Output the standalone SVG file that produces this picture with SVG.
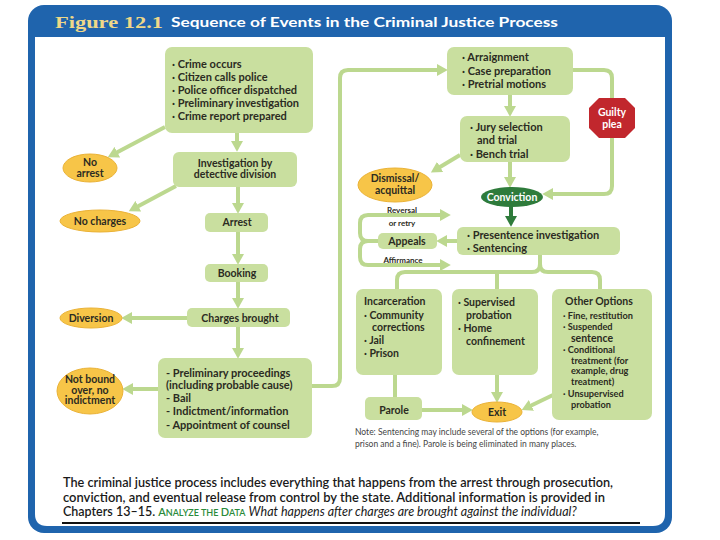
<svg xmlns="http://www.w3.org/2000/svg" width="720" height="540" viewBox="0 0 720 540">
<style>
.t{font-family:Lato,"Liberation Sans",sans-serif;font-weight:bold;font-size:10.5px;fill:#2b2b22}
.b{font-size:11px}
.c{text-anchor:middle}
.w{fill:#ffffff}
.sm{font-size:8px}
.o{font-size:9.2px}
.box{fill:#c9df9f}
.ov{fill:#f7c548;stroke:#eab236;stroke-width:1}
.ln{fill:none;stroke:#bcd88f;stroke-width:4}
.la{fill:none;stroke:#bcd88f;stroke-width:4;marker-end:url(#ah)}
.note{font-family:Lato,"Liberation Sans",sans-serif;font-size:8.5px;fill:#444}
.cap{font-family:Lato,"Liberation Sans",sans-serif;font-size:12.5px;font-weight:600;fill:#1a1a1a}
</style>
<defs>
<marker id="ah" markerUnits="userSpaceOnUse" markerWidth="12" markerHeight="12" viewBox="0 0 10 10" refX="5" refY="5" orient="auto">
<path d="M0,0 L9,5 L0,10 z" fill="#bcd88f"/>
</marker>
<marker id="ahd" markerUnits="userSpaceOnUse" markerWidth="12" markerHeight="12" viewBox="0 0 10 10" refX="5" refY="5" orient="auto">
<path d="M0,0 L9,5 L0,10 z" fill="#2e7b3b"/>
</marker>
</defs>
<rect width="720" height="540" fill="#ffffff"/>
<g id="frame">
<rect x="28" y="5" width="644" height="528" rx="16" fill="#1f64ad"/>
<path d="M35,37 H665 V514 Q665,526 653,526 H47 Q35,526 35,514 Z" fill="#ffffff"/>
<text x="55" y="28" font-family="Liberation Serif,serif" font-weight="bold" font-size="17" fill="#efd888" textLength="108" lengthAdjust="spacingAndGlyphs">Figure 12.1</text>
<text x="171" y="27" font-family="Lato,Liberation Sans,sans-serif" font-weight="bold" font-size="14" fill="#ffffff" textLength="387" lengthAdjust="spacingAndGlyphs">Sequence of Events in the Criminal Justice Process</text>
</g>
<g id="connectors">
<path class="la" d="M165,127 L112,155"/>
<path class="la" d="M237,133 V147"/>
<path class="la" d="M176,186 L133,209"/>
<path class="la" d="M238,187 V209"/>
<path class="la" d="M238,232 V260"/>
<path class="la" d="M238,282 V304"/>
<path class="la" d="M187,318 H126"/>
<path class="la" d="M238,327 V354"/>
<path class="la" d="M158,389 H127"/>
<path class="la" d="M312,386 H332 Q340,386 340,378 V78 Q340,70 348,70 H443"/>
<path class="la" d="M510,95 V112"/>
<path class="la" d="M573,70 H604 Q612,70 612,78 V186 Q612,194 604,194 H547"/>
<path class="la" d="M460,155 L435,170"/>
<path class="la" d="M510,162 V183"/>
<path d="M511,207 V222" fill="none" stroke="#2e7b3b" stroke-width="4" marker-end="url(#ahd)"/>
<path class="la" d="M457,241 H441"/>
<path class="la" d="M378,241 H368 Q360,241 360,233 V223 Q360,215 368,215 H446"/>
<path class="la" d="M378,241 H368 Q360,241 360,249 V257 Q360,265 368,265 H446"/>
<path class="ln" d="M540,255 V264 Q540,272 532,272 H405 Q397,272 397,280 V290"/>
<path class="ln" d="M540,264 Q540,272 548,272 H592 Q600,272 600,280 V290"/>
<path class="ln" d="M497,272 V290"/>
<path class="ln" d="M395,375 V397"/>
<path class="la" d="M422,410 H468"/>
<path class="la" d="M497,375 V398"/>
<path class="la" d="M553,395 L526,408"/>
</g>
<g id="n-start">
<rect class="box" x="165" y="47" width="148" height="86" rx="7"/>
<text class="t b" x="172" y="68">· Crime occurs</text>
<text class="t b" x="172" y="81">· Citizen calls police</text>
<text class="t b" x="172" y="94">· Police officer dispatched</text>
<text class="t b" x="172" y="107">· Preliminary investigation</text>
<text class="t b" x="172" y="120">· Crime report prepared</text>
</g>
<g id="n-noarrest">
<ellipse class="ov" cx="90" cy="168" rx="27" ry="14"/>
<text class="t c" x="90" y="166">No</text>
<text class="t c" x="90" y="177">arrest</text>
</g>
<g id="n-invest">
<rect class="box" x="173" y="152" width="124" height="35" rx="6"/>
<text class="t c" x="235" y="167">Investigation by</text>
<text class="t c" x="235" y="178">detective division</text>
</g>
<g id="n-nocharges">
<ellipse class="ov" cx="100" cy="221" rx="40" ry="11"/>
<text class="t c" x="100" y="225">No charges</text>
</g>
<g id="n-arrest">
<rect class="box" x="205" y="213" width="63" height="19" rx="5"/>
<text class="t c" x="237" y="226">Arrest</text>
</g>
<g id="n-booking">
<rect class="box" x="205" y="264" width="63" height="18" rx="5"/>
<text class="t c" x="237" y="277">Booking</text>
</g>
<g id="n-charges">
<rect class="box" x="187" y="308" width="103" height="19" rx="5"/>
<text class="t c" x="240" y="322">Charges brought</text>
</g>
<g id="n-diversion">
<ellipse class="ov" cx="91" cy="318" rx="31" ry="10"/>
<text class="t c" x="91" y="322">Diversion</text>
</g>
<g id="n-prelim">
<rect class="box" x="158" y="358" width="154" height="80" rx="7"/>
<text class="t b" x="166" y="377">- Preliminary proceedings</text>
<text class="t b" x="166" y="389">(including probable cause)</text>
<text class="t b" x="166" y="402">- Bail</text>
<text class="t b" x="166" y="415">- Indictment/information</text>
<text class="t b" x="166" y="429">- Appointment of counsel</text>
</g>
<g id="n-notbound">
<ellipse class="ov" cx="90" cy="391" rx="33" ry="23"/>
<text class="t c" x="90" y="383" font-size="9.5">Not bound</text>
<text class="t c" x="90" y="393.5" font-size="9.5">over, no</text>
<text class="t c" x="90" y="404" font-size="9.5">indictment</text>
</g>
<g id="n-arraign">
<rect class="box" x="447" y="47" width="126" height="48" rx="7"/>
<text class="t b" x="462" y="61">· Arraignment</text>
<text class="t b" x="462" y="75">· Case preparation</text>
<text class="t b" x="462" y="88">· Pretrial motions</text>
</g>
<g id="n-guilty">
<polygon points="599,98 625,98 635,108 635,128 625,138 599,138 589,128 589,108" fill="#c1272d"/>
<text class="t c w" x="612" y="116">Guilty</text>
<text class="t c w" x="612" y="128">plea</text>
</g>
<g id="n-jury">
<rect class="box" x="460" y="116" width="110" height="46" rx="7"/>
<text class="t b" x="470" y="131">· Jury selection</text>
<text class="t b" x="477" y="144">and trial</text>
<text class="t b" x="470" y="158">· Bench trial</text>
</g>
<g id="n-dismissal">
<ellipse class="ov" cx="395" cy="185" rx="37" ry="17"/>
<text class="t c" x="395" y="182">Dismissal/</text>
<text class="t c" x="395" y="194">acquittal</text>
</g>
<g id="n-conviction">
<ellipse cx="512" cy="197" rx="31" ry="10" fill="#2e7b3b"/>
<text class="t c w" x="512" y="201">Conviction</text>
</g>
<g id="n-appeals">
<rect class="box" x="378" y="233" width="59" height="16" rx="5"/>
<text class="t c" x="407" y="245" font-size="11.5">Appeals</text>
<text class="t c sm" x="402" y="213">Reversal</text>
<text class="t c sm" x="402" y="226">or retry</text>
<text class="t c sm" x="403" y="263">Affirmance</text>
</g>
<g id="n-presentence">
<rect class="box" x="457" y="227" width="163" height="28" rx="6"/>
<text class="t b" x="467" y="239">· Presentence investigation</text>
<text class="t b" x="467" y="252">· Sentencing</text>
</g>
<g id="n-incarc">
<rect class="box" x="356" y="289" width="86" height="86" rx="7"/>
<text class="t" x="364" y="305">Incarceration</text>
<text class="t" x="364" y="319">· Community</text>
<text class="t" x="372" y="331" font-size="9.5">corrections</text>
<text class="t" x="364" y="344">· Jail</text>
<text class="t" x="364" y="357">· Prison</text>
</g>
<g id="n-superv">
<rect class="box" x="452" y="289" width="86" height="86" rx="7"/>
<text class="t" x="458" y="306" font-size="12">· Supervised</text>
<text class="t" x="466" y="319" font-size="12">probation</text>
<text class="t" x="458" y="332" font-size="12">· Home</text>
<text class="t" x="466" y="345">confinement</text>
</g>
<g id="n-other">
<rect class="box" x="552" y="289" width="100" height="131" rx="7"/>
<text class="t" x="565" y="305">Other Options</text>
<text class="t o" x="563" y="319">· Fine, restitution</text>
<text class="t o" x="563" y="330">· Suspended</text>
<text class="t" x="571" y="341.5" font-size="7.5">sentence</text>
<text class="t o" x="563" y="353">· Conditional</text>
<text class="t o" x="571" y="363.5">treatment (for</text>
<text class="t o" x="571" y="374">example, drug</text>
<text class="t o" x="571" y="384.5">treatment)</text>
<text class="t o" x="563" y="397">· Unsupervised</text>
<text class="t o" x="571" y="408">probation</text>
</g>
<g id="n-parole">
<rect class="box" x="365" y="397" width="57" height="23" rx="5"/>
<text class="t c" x="394" y="414" font-size="11.5">Parole</text>
</g>
<g id="n-exit">
<ellipse class="ov" cx="497" cy="412" rx="25" ry="10"/>
<text class="t c" x="497" y="416">Exit</text>
</g>
<g id="note">
<text class="note" x="355" y="435">Note: Sentencing may include several of the options (for example,</text>
<text class="note" x="355" y="447">prison and a fine). Parole is being eliminated in many places.</text>
</g>
<g id="caption">
<text class="cap" x="63" y="487" textLength="550" lengthAdjust="spacingAndGlyphs">The criminal justice process includes everything that happens from the arrest through prosecution,</text>
<text class="cap" x="63" y="502" textLength="542" lengthAdjust="spacingAndGlyphs">conviction, and eventual release from control by the state. Additional information is provided in</text>
<text class="cap" x="63" y="516">Chapters 13–15. <tspan fill="#2a8a3a" font-size="11">A<tspan font-size="9">NALYZE THE </tspan>D<tspan font-size="9">ATA</tspan></tspan> <tspan font-style="italic" font-weight="normal">What happens after charges are brought against the individual?</tspan></text>
<line x1="62" y1="523" x2="640" y2="523" stroke="#111" stroke-width="2"/>
</g>
</svg>
